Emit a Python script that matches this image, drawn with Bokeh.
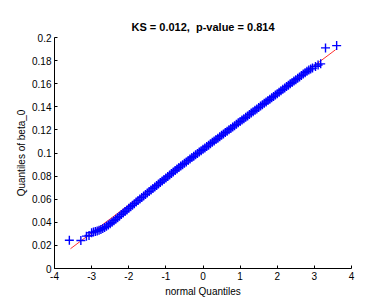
from bokeh.plotting import figure
from bokeh.models import Range1d, FixedTicker
from bokeh.embed import file_html
from bokeh.resources import INLINE

title_text = "KS = 0.012,\u00a0 p-value = 0.814"
x_label = "normal Quantiles"
y_label = "Quantiles of beta_0"

x_ticks = [-4, -3, -2, -1, 0, 1, 2, 3, 4]
x_tick_labels = ["-4", "-3", "-2", "-1", "0", "1", "2", "3", "4"]
y_ticks = [0, 0.02, 0.04, 0.06, 0.08, 0.1, 0.12, 0.14, 0.16, 0.18, 0.2]
y_tick_labels = ["0", "0.02", "0.04", "0.06", "0.08", "0.1", "0.12", "0.14", "0.16", "0.18", "0.2"]

# reference line (through quartiles, extended)
ref_x = [-3.57, 3.57]
ref_y = [0.0171, 0.1894]

# sample quantiles
qq_x = [-3.60, -3.29, -3.14, -3.07,
        -3.00, -2.95, -2.90, -2.85, -2.80, -2.75, -2.70, -2.65, -2.60, -2.55,
        -2.50, -2.45, -2.40, -2.35, -2.30, -2.25, -2.20, -2.15, -2.10, -2.05,
        -2.00, -1.95, -1.90, -1.85,
        -1.80, -1.75, -1.70, -1.65, -1.60, -1.55, -1.50, -1.45, -1.40, -1.35,
        -1.30, -1.25, -1.20, -1.15, -1.10, -1.05, -1.00, -0.95, -0.90, -0.85,
        -0.80, -0.75, -0.70, -0.65, -0.60, -0.55, -0.50, -0.45, -0.40, -0.35,
        -0.30, -0.25, -0.20, -0.15, -0.10, -0.05, 0.00, 0.05, 0.10, 0.15,
        0.20, 0.25, 0.30, 0.35, 0.40, 0.45, 0.50, 0.55, 0.60, 0.65,
        0.70, 0.75, 0.80, 0.85, 0.90, 0.95, 1.00, 1.05, 1.10, 1.15,
        1.20, 1.25, 1.30, 1.35, 1.40, 1.45, 1.50, 1.55, 1.60, 1.65,
        1.70, 1.75, 1.80, 1.85, 1.90, 1.95, 2.00, 2.05, 2.10, 2.15,
        2.20, 2.25, 2.30, 2.35, 2.40, 2.45, 2.50, 2.55, 2.60, 2.65,
        2.70, 2.75, 2.80, 2.85, 2.90, 2.95, 3.03, 3.10, 3.17, 3.30, 3.60]
qq_y = [0.0245, 0.0242, 0.0280, 0.0286,
        0.0310, 0.0315, 0.0320, 0.0325, 0.0331, 0.0338, 0.0346, 0.0355, 0.0365, 0.0376,
        0.0388, 0.0401, 0.0414, 0.0427, 0.0440, 0.0453, 0.0467, 0.0480, 0.0493, 0.0507,
        0.0521, 0.0534, 0.0548, 0.0561,
        0.0575, 0.0588, 0.0601, 0.0614, 0.0627, 0.0640, 0.0653, 0.0666, 0.0679, 0.0692,
        0.0705, 0.0719, 0.0732, 0.0745, 0.0758, 0.0771, 0.0784, 0.0797, 0.0810, 0.0823,
        0.0836, 0.0849, 0.0862, 0.0875, 0.0887, 0.0899, 0.0911, 0.0923, 0.0936, 0.0948,
        0.0960, 0.0972, 0.0984, 0.0996, 0.1008, 0.1020, 0.1032, 0.1044, 0.1056, 0.1068,
        0.1080, 0.1092, 0.1104, 0.1116, 0.1128, 0.1141, 0.1153, 0.1165, 0.1177, 0.1189,
        0.1201, 0.1213, 0.1225, 0.1237, 0.1249, 0.1261, 0.1273, 0.1285, 0.1297, 0.1309,
        0.1321, 0.1334, 0.1346, 0.1358, 0.1370, 0.1382, 0.1394, 0.1406, 0.1418, 0.1430,
        0.1442, 0.1454, 0.1466, 0.1478, 0.1490, 0.1502, 0.1514, 0.1526, 0.1539, 0.1551,
        0.1563, 0.1575, 0.1587, 0.1599, 0.1611, 0.1623, 0.1635, 0.1647, 0.1659, 0.1671,
        0.1683, 0.1695, 0.1707, 0.1718, 0.1728, 0.1735, 0.1750, 0.1762, 0.1772, 0.1910, 0.1930]

FONT = "Liberation Sans"

p = figure(width=374, height=300, output_backend="svg", toolbar_location=None,
           x_range=Range1d(-4, 4), y_range=Range1d(0, 0.2),
           min_border_left=54, min_border_right=23, min_border_top=37, min_border_bottom=32,
           title=title_text)
p.outline_line_color = None
p.background_fill_color = "white"
p.border_fill_color = "white"
p.xgrid.visible = False
p.ygrid.visible = False

p.title.align = "center"
p.title.text_font = FONT
p.title.text_font_size = "11px"
p.title.text_font_style = "bold"
p.title.text_color = "black"
p.title.standoff = 9

for ax, ticks, labels in ((p.xaxis[0], x_ticks, x_tick_labels), (p.yaxis[0], y_ticks, y_tick_labels)):
    ax.ticker = FixedTicker(ticks=ticks)
    ax.major_label_overrides = {t: l for t, l in zip(ticks, labels)}
    ax.major_tick_in = 3
    ax.major_tick_out = 0
    ax.minor_tick_in = 0
    ax.minor_tick_out = 0
    ax.axis_line_color = "black"
    ax.major_tick_line_color = "black"
    ax.major_label_text_font = FONT
    ax.major_label_text_font_size = "10px"
    ax.major_label_text_color = "black"
    ax.axis_label_text_font = FONT
    ax.axis_label_text_font_size = "10px"
    ax.axis_label_text_font_style = "normal"
    ax.axis_label_text_color = "black"

p.xaxis.axis_label = x_label
p.yaxis.axis_label = y_label
p.xaxis.major_label_standoff = 3
p.yaxis.major_label_standoff = 3
p.xaxis.axis_label_standoff = 3
p.yaxis.axis_label_standoff = 2

p.line(ref_x, ref_y, line_color="#ff3030", line_width=1)
p.scatter(qq_x, qq_y, marker="cross", size=9, line_color="blue", line_width=1.4)

open("out.html", "w").write(file_html(p, INLINE))
